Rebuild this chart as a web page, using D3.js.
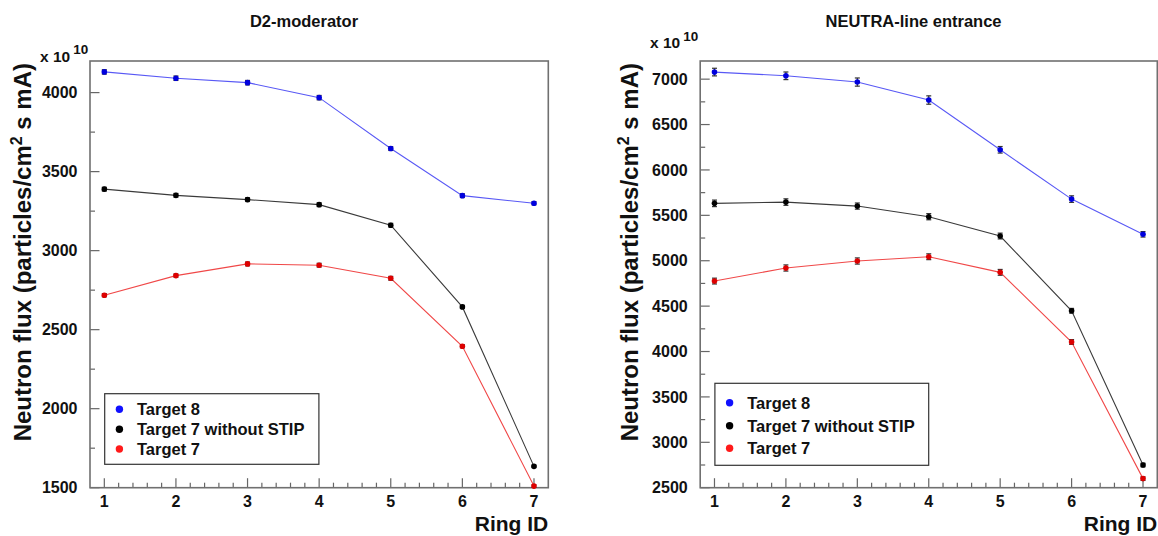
<!DOCTYPE html>
<html>
<head>
<meta charset="utf-8">
<script src="https://cdn.jsdelivr.net/npm/d3@7"></script>
<style>
  body { margin: 0; background: #fff; }
  text { font-family: "Liberation Sans", Arial, Helvetica, sans-serif; font-weight: bold; fill: #111; }
</style>
</head>
<body>
<svg id="chart" width="1158" height="536"></svg>
<script>
// ring IDs on the x axis
const ringIds = [1, 2, 3, 4, 5, 6, 7];
const seriesNames = ["Target 8", "Target 7 without STIP", "Target 7"];

// D2-moderator, flux in units of 1e10
const d2Target8 = [4131, 4091, 4063, 3968, 3646, 3348, 3300];
const d2Target7NoStip = [3389, 3350, 3323, 3291, 3161, 2644, 1635];
const d2Target7 = [2718, 2842, 2916, 2908, 2825, 2395, 1510];
const d2Err8 = [14, 14, 14, 14, 12, 12, 10];
const d2Err7NoStip = [12, 12, 12, 12, 12, 10, 8];
const d2Err7 = [10, 10, 12, 12, 12, 10, 8];

// NEUTRA-line entrance
const neutraTarget8 = [7078, 7037, 6968, 6770, 6222, 5679, 5291];
const neutraTarget7NoStip = [5632, 5646, 5602, 5485, 5272, 4449, 2750];
const neutraTarget7 = [4776, 4920, 4997, 5044, 4872, 4105, 2600];
const neutraErr8 = [42, 42, 45, 46, 36, 36, 30];
const neutraErr7NoStip = [36, 36, 34, 34, 32, 26, 20];
const neutraErr7 = [32, 34, 34, 32, 32, 26, 20];

const xTickLabels = ["1", "2", "3", "4", "5", "6", "7"];
const d2YTicks = [1500, 2000, 2500, 3000, 3500, 4000];
const neutraYTicks = [2500, 3000, 3500, 4000, 4500, 5000, 5500, 6000, 6500, 7000];

const markerColors = ["#0000dd", "#000000", "#dd0000"];
const lineColors = ["#5858f5", "#3a3a3a", "#f04848"];
const legendColors = ["#1010ff", "#000000", "#ff1a1a"];

const svg = d3.select("#chart");

function drawPanel(opts) {
  const g = svg.append("g");
  const x = d3.scaleLinear([0.8, 7.2], [opts.left, opts.right]);
  const y = d3.scaleLinear(opts.yDomain, [opts.bottom, opts.top]);

  // minor ticks every 250 on y, every 0.2 on x
  const yMinor = d3.range(opts.yDomain[0], opts.yDomain[1] + 1, 250);
  const xMinor = d3.range(1, 7.01, 0.2).map((d) => Math.round(d * 10) / 10);

  g.selectAll("line.yminor")
    .data(yMinor)
    .join("line")
    .attr("x1", opts.left)
    .attr("x2", (d) => opts.left + (opts.yTicks.includes(d) ? 9.5 : 5))
    .attr("y1", (d) => y(d))
    .attr("y2", (d) => y(d))
    .attr("stroke", "#666")
    .attr("stroke-width", 1.2);

  g.selectAll("line.xminor")
    .data(xMinor)
    .join("line")
    .attr("x1", (d) => x(d))
    .attr("x2", (d) => x(d))
    .attr("y1", opts.bottom)
    .attr("y2", (d) => opts.bottom - (Number.isInteger(d) ? 9.5 : 5))
    .attr("stroke", "#666")
    .attr("stroke-width", 1.2);

  g.append("rect")
    .attr("x", opts.left)
    .attr("y", opts.top)
    .attr("width", opts.right - opts.left)
    .attr("height", opts.bottom - opts.top)
    .attr("fill", "none")
    .attr("stroke", "#707070")
    .attr("stroke-width", 1.6);

  g.selectAll("text.ytick")
    .data(opts.yTicks)
    .join("text")
    .attr("x", opts.left - 12.5)
    .attr("y", (d) => y(d) + 5.6)
    .attr("text-anchor", "end")
    .style("font-size", "16px")
    .text((d) => d);

  g.selectAll("text.xtick")
    .data(ringIds)
    .join("text")
    .attr("x", (d) => x(d))
    .attr("y", opts.bottom + 19.5)
    .attr("text-anchor", "middle")
    .style("font-size", "16px")
    .text((d, i) => xTickLabels[i]);

  // series lines, error bars, markers
  const line = d3.line()
    .x((d) => x(d.ring))
    .y((d) => y(d.v));

  opts.series.forEach((vals, s) => {
    const pts = vals.map((v, i) => ({ ring: ringIds[i], v: v, e: opts.errors[s][i] }));
    g.append("path")
      .datum(pts)
      .attr("d", line)
      .attr("fill", "none")
      .attr("stroke", lineColors[s])
      .attr("stroke-width", 1.1);

    const eb = g.append("g").selectAll("g").data(pts).join("g");
    eb.append("line")
      .attr("x1", (d) => x(d.ring))
      .attr("x2", (d) => x(d.ring))
      .attr("y1", (d) => y(d.v - d.e))
      .attr("y2", (d) => y(d.v + d.e))
      .attr("stroke", "#333")
      .attr("stroke-width", 1.2);
    eb.selectAll("line.cap")
      .data((d) => [d.v - d.e, d.v + d.e])
      .join("line")
      .attr("x1", function () { return x(d3.select(this.parentNode).datum().ring) - 2.5; })
      .attr("x2", function () { return x(d3.select(this.parentNode).datum().ring) + 2.5; })
      .attr("y1", (d) => y(d))
      .attr("y2", (d) => y(d))
      .attr("stroke", "#333")
      .attr("stroke-width", 1.2);

    g.selectAll("circle.s" + s)
      .data(pts)
      .join("circle")
      .attr("cx", (d) => x(d.ring))
      .attr("cy", (d) => y(d.v))
      .attr("r", 2.8)
      .attr("fill", markerColors[s]);
  });

  // legend
  const lg = opts.legend;
  g.append("rect")
    .attr("x", lg.x)
    .attr("y", lg.y)
    .attr("width", lg.w)
    .attr("height", lg.h)
    .attr("fill", "#fff")
    .attr("stroke", "#333")
    .attr("stroke-width", 1.2);
  seriesNames.forEach((name, i) => {
    const cy = lg.rows[i];
    g.append("circle")
      .attr("cx", lg.x + 14.7)
      .attr("cy", cy)
      .attr("r", 3.7)
      .attr("fill", legendColors[i]);
    g.append("text")
      .attr("x", lg.x + 32.3)
      .attr("y", cy + 5.8)
      .style("font-size", "16.5px")
      .text(name);
  });

  // titles
  g.append("text")
    .attr("x", opts.titleX)
    .attr("y", 27)
    .attr("text-anchor", "middle")
    .style("font-size", "16.5px")
    .text(opts.title);

  const ex = g.append("text")
    .attr("x", opts.expX)
    .attr("y", opts.expY)
    .style("font-size", "15.5px");
  ex.append("tspan").text("x 10");
  ex.append("tspan")
    .attr("dx", 3)
    .attr("dy", -7.5)
    .style("font-size", "13.5px")
    .text("10");

  const yt = g.append("text")
    .attr("transform", "translate(" + opts.yTitleX + "," + (opts.top + 2) + ") rotate(-90)")
    .attr("text-anchor", "end")
    .style("font-size", "24px");
  yt.append("tspan").text("Neutron flux (particles/cm");
  yt.append("tspan").attr("dy", -9).style("font-size", "16px").text("2");
  yt.append("tspan").attr("dy", 9).text(" s mA)");

  g.append("text")
    .attr("x", opts.right)
    .attr("y", 531)
    .attr("text-anchor", "end")
    .style("font-size", "21px")
    .text("Ring ID");
}

drawPanel({
  left: 90,
  right: 548.3,
  top: 61,
  bottom: 487.7,
  yDomain: [1500, 4200],
  yTicks: d2YTicks,
  series: [d2Target8, d2Target7NoStip, d2Target7],
  errors: [d2Err8, d2Err7NoStip, d2Err7],
  legend: { x: 104.7, y: 393.7, w: 214.2, h: 70.6, rows: [409.3, 429.3, 449] },
  title: "D2-moderator",
  titleX: 304,
  expX: 40,
  expY: 61.7,
  yTitleX: 30.5,
});

drawPanel({
  left: 700.2,
  right: 1157.3,
  top: 61,
  bottom: 487.7,
  yDomain: [2500, 7200],
  yTicks: neutraYTicks,
  series: [neutraTarget8, neutraTarget7NoStip, neutraTarget7],
  errors: [neutraErr8, neutraErr7NoStip, neutraErr7],
  legend: { x: 714.9, y: 383.3, w: 213.8, h: 82, rows: [402.7, 425.7, 448.3] },
  title: "NEUTRA-line entrance",
  titleX: 913.5,
  expX: 650,
  expY: 48.3,
  yTitleX: 638,
});
</script>
</body>
</html>
